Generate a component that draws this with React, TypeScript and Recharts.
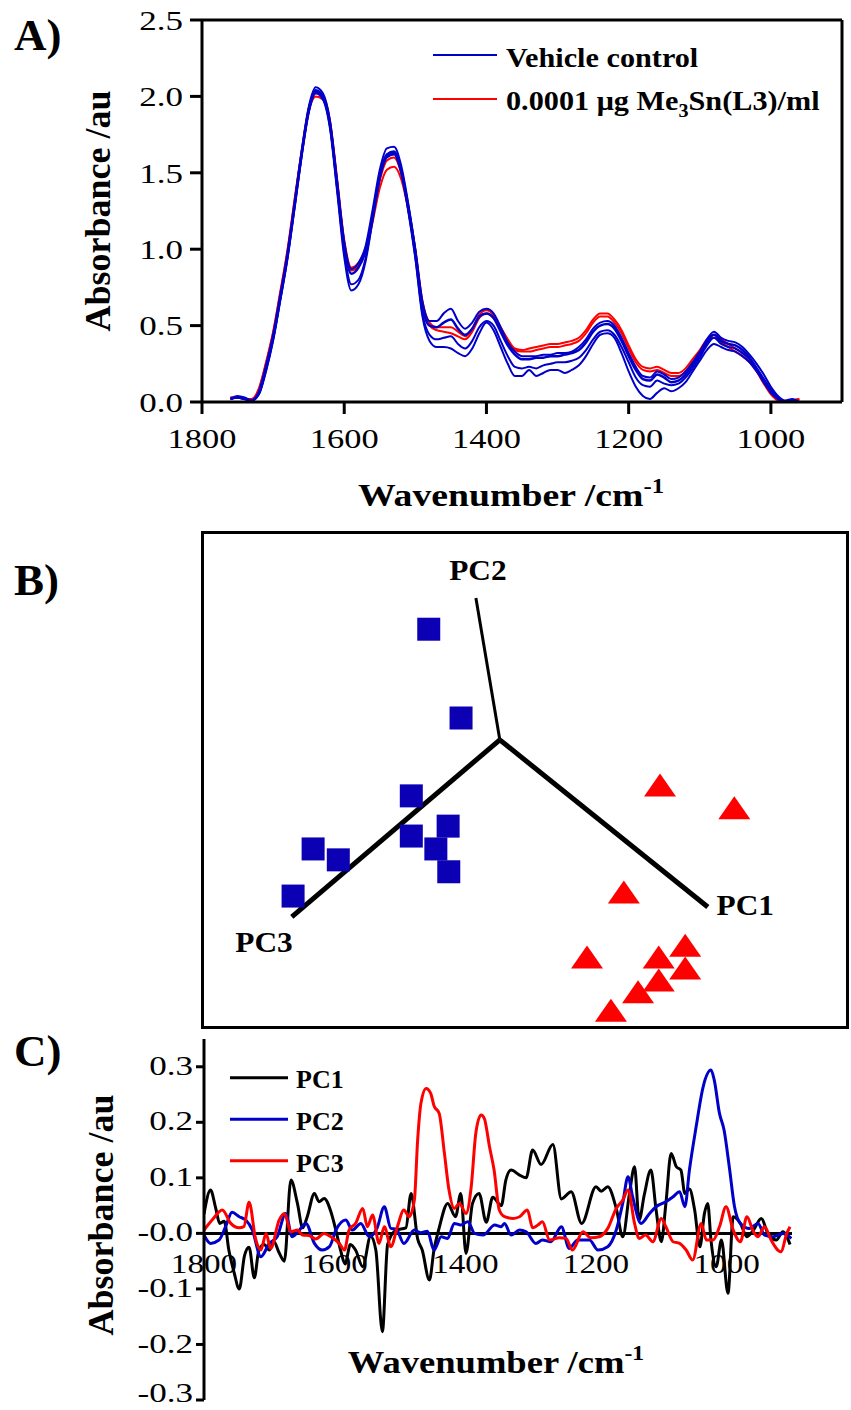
import React from 'react';
import { LineChart, Line, XAxis, YAxis, ScatterChart, Scatter, ReferenceLine, ReferenceDot, Legend } from 'recharts';

const SERIF = '"Liberation Serif", "Times New Roman", Times, serif';
const BLUE = '#0000c8';
const RED = '#ff0000';
const BLACK = '#000000';
const SQUARE_BLUE = '#0c00b4';

// ---------------- Panel A : spectra ----------------
const A_WN = [1760, 1750, 1740, 1730, 1720, 1710, 1700, 1690, 1680, 1670,
  1660, 1650, 1640, 1630, 1620, 1610, 1600, 1590, 1580, 1570,
  1560, 1550, 1540, 1530, 1520, 1510, 1500, 1490, 1480, 1470,
  1460, 1450, 1440, 1430, 1420, 1410, 1400, 1390, 1380, 1370,
  1360, 1350, 1340, 1330, 1320, 1310, 1300, 1290, 1280, 1270,
  1260, 1250, 1240, 1230, 1220, 1210, 1200, 1190, 1180, 1170,
  1160, 1150, 1140, 1130, 1120, 1110, 1100, 1090, 1080, 1070,
  1060, 1050, 1040, 1030, 1020, 1010, 1000, 990, 980, 970, 960];

const A_BLUE_MID = [0.02, 0.03, 0.02, 0.01, 0.06, 0.22, 0.42, 0.68, 0.95, 1.28,
  1.62, 1.91, 2.04, 2.00, 1.82, 1.42, 1.02, 0.84, 0.88, 0.99,
  1.22, 1.48, 1.62, 1.64, 1.52, 1.28, 0.98, 0.62, 0.50, 0.49,
  0.52, 0.54, 0.48, 0.44, 0.48, 0.56, 0.58, 0.55, 0.46, 0.37,
  0.31, 0.28, 0.28, 0.29, 0.29, 0.30, 0.30, 0.31, 0.32, 0.34,
  0.39, 0.46, 0.50, 0.51, 0.48, 0.40, 0.30, 0.21, 0.15, 0.14,
  0.18, 0.16, 0.13, 0.14, 0.18, 0.24, 0.31, 0.39, 0.44, 0.40,
  0.38, 0.37, 0.34, 0.29, 0.22, 0.15, 0.08, 0.03, 0.00, 0.01, 0.00];

const A_BLUE_HIGH = [0.02, 0.04, 0.03, 0.01, 0.07, 0.24, 0.44, 0.70, 0.97, 1.30,
  1.64, 1.93, 2.06, 2.02, 1.84, 1.45, 1.05, 0.87, 0.91, 1.02,
  1.26, 1.52, 1.66, 1.67, 1.55, 1.30, 1.00, 0.66, 0.53, 0.53,
  0.58, 0.61, 0.53, 0.48, 0.52, 0.59, 0.61, 0.58, 0.49, 0.39,
  0.33, 0.30, 0.30, 0.30, 0.31, 0.31, 0.32, 0.32, 0.33, 0.36,
  0.41, 0.48, 0.52, 0.53, 0.50, 0.42, 0.32, 0.23, 0.17, 0.16,
  0.20, 0.18, 0.15, 0.16, 0.20, 0.26, 0.33, 0.41, 0.46, 0.42,
  0.40, 0.39, 0.36, 0.31, 0.25, 0.18, 0.10, 0.04, 0.01, 0.02, 0.00];

const A_BLUE_LOW1 = [0.02, 0.03, 0.02, 0.01, 0.05, 0.21, 0.41, 0.67, 0.94, 1.27,
  1.61, 1.90, 2.03, 1.99, 1.80, 1.40, 0.98, 0.77, 0.80, 0.94,
  1.20, 1.47, 1.61, 1.63, 1.51, 1.26, 0.95, 0.58, 0.44, 0.41,
  0.42, 0.43, 0.38, 0.35, 0.40, 0.49, 0.53, 0.50, 0.40, 0.30,
  0.23, 0.22, 0.23, 0.22, 0.24, 0.25, 0.26, 0.26, 0.27, 0.29,
  0.34, 0.41, 0.46, 0.47, 0.44, 0.36, 0.26, 0.16, 0.11, 0.10,
  0.14, 0.12, 0.11, 0.12, 0.16, 0.22, 0.29, 0.37, 0.42, 0.38,
  0.36, 0.35, 0.32, 0.28, 0.21, 0.13, 0.07, 0.02, 0.00, 0.01, 0.00];

const A_BLUE_LOW2 = [0.02, 0.03, 0.02, 0.01, 0.05, 0.20, 0.40, 0.66, 0.93, 1.26,
  1.60, 1.89, 2.02, 1.98, 1.79, 1.38, 0.95, 0.73, 0.77, 0.92,
  1.19, 1.46, 1.60, 1.62, 1.50, 1.25, 0.94, 0.56, 0.40, 0.36,
  0.36, 0.35, 0.32, 0.30, 0.35, 0.45, 0.52, 0.47, 0.36, 0.25,
  0.17, 0.17, 0.21, 0.17, 0.19, 0.21, 0.21, 0.19, 0.21, 0.24,
  0.30, 0.38, 0.44, 0.45, 0.42, 0.32, 0.20, 0.10, 0.04, 0.02,
  0.06, 0.09, 0.07, 0.09, 0.13, 0.20, 0.27, 0.34, 0.38, 0.36,
  0.34, 0.33, 0.30, 0.26, 0.20, 0.13, 0.06, 0.02, 0.00, 0.01, 0.00];

const A_RED_MID = [0.03, 0.03, 0.02, 0.02, 0.08, 0.25, 0.45, 0.71, 0.98, 1.31,
  1.63, 1.90, 2.00, 1.98, 1.82, 1.44, 1.04, 0.86, 0.89, 0.98,
  1.18, 1.40, 1.52, 1.54, 1.46, 1.26, 0.98, 0.64, 0.50, 0.47,
  0.46, 0.45, 0.43, 0.41, 0.46, 0.55, 0.58, 0.55, 0.47, 0.39,
  0.34, 0.33, 0.33, 0.34, 0.35, 0.36, 0.36, 0.37, 0.38, 0.40,
  0.45, 0.52, 0.56, 0.56, 0.52, 0.45, 0.35, 0.26, 0.21, 0.20,
  0.21, 0.19, 0.17, 0.17, 0.20, 0.26, 0.32, 0.39, 0.42, 0.39,
  0.36, 0.33, 0.30, 0.26, 0.20, 0.12, 0.05, 0.01, 0.00, 0.01, 0.02];

const A_RED_HIGH = [0.03, 0.03, 0.02, 0.02, 0.09, 0.26, 0.46, 0.72, 0.99, 1.32,
  1.64, 1.92, 2.02, 2.00, 1.84, 1.46, 1.06, 0.88, 0.91, 1.00,
  1.22, 1.45, 1.58, 1.60, 1.50, 1.28, 1.00, 0.66, 0.52, 0.49,
  0.49, 0.49, 0.46, 0.43, 0.48, 0.57, 0.60, 0.57, 0.49, 0.41,
  0.35, 0.34, 0.35, 0.36, 0.37, 0.38, 0.38, 0.39, 0.40, 0.42,
  0.47, 0.54, 0.58, 0.58, 0.54, 0.47, 0.37, 0.28, 0.23, 0.22,
  0.23, 0.21, 0.19, 0.19, 0.22, 0.28, 0.34, 0.41, 0.44, 0.41,
  0.38, 0.35, 0.32, 0.28, 0.22, 0.14, 0.06, 0.02, 0.00, 0.01, 0.02];

const A_X_TICKS = [1800, 1600, 1400, 1200, 1000];
const A_TOP_TICKS = [1493, 1207, 921];
const A_Y_TICKS = [0, 0.5, 1.0, 1.5, 2.0, 2.5];
const A_RIGHT_TICKS = [0.5, 2.0];
const A_LEGEND = [
  { color: BLUE, pre: 'Vehicle control', sub: '', post: '' },
  { color: RED, pre: '0.0001 \u03bcg Me', sub: '3', post: 'Sn(L3)/ml' },
];

// ---------------- Panel B : PCA scores ----------------
const B_CTRL_X = [35.1, 40.1, 32.4, 17.2, 21.1, 32.4, 38.1, 36.2, 38.2, 14.1];
const B_CTRL_Y = [80.4, 62.5, 46.8, 36.1, 33.9, 38.7, 40.7, 36.1, 31.5, 26.6];
const B_TRT_X = [70.9, 82.4, 65.3, 74.8, 70.7, 74.8, 59.6, 70.7, 67.5, 63.3];
const B_TRT_Y = [49.0, 44.4, 27.4, 16.7, 14.3, 12.1, 14.3, 9.7, 7.3, 3.6];
const B_ORIGIN = { x: 46.1, y: 58.1 };
const B_AXES = [
  { name: 'PC1', x: 78.3, y: 24.4, lx: 84.1, ly: 24.8, w: 5 },
  { name: 'PC2', x: 42.4, y: 86.7, lx: 42.7, ly: 92.3, w: 3 },
  { name: 'PC3', x: 13.9, y: 22.4, lx: 9.6, ly: 17.3, w: 5 },
];

// ---------------- Panel C : PC loadings ----------------
const PC1_WN = [1800, 1790, 1782, 1776, 1769, 1762, 1754, 1746, 1738, 1731, 1723, 1716, 1708, 1700, 1693, 1685, 1677, 1667, 1657, 1649,
  1642, 1631, 1624, 1616, 1606, 1598, 1591, 1584, 1576, 1568, 1557, 1545, 1537, 1527, 1519, 1506, 1491, 1483, 1473, 1466,
  1455, 1448, 1440, 1427, 1415, 1407, 1399, 1389, 1379, 1368, 1358, 1345, 1338, 1330, 1317, 1307, 1297, 1284, 1266, 1253,
  1238, 1222, 1200, 1192, 1182, 1169, 1159, 1149, 1141, 1134, 1126, 1116, 1108, 1100, 1093, 1085, 1077, 1070, 1064, 1057,
  1049, 1041, 1034, 1029, 1024, 1016, 1008, 998, 990, 979, 969, 959, 947, 937, 924, 914, 903];
const PC1_VAL = [0.035, 0.078, 0.045, 0.018, 0.022, -0.03, -0.07, -0.10, -0.04, -0.025, -0.08, -0.03, -0.02, -0.03, -0.015, -0.035, -0.05, 0.096, 0.054, 0.01,
  0.03, 0.072, 0.057, 0.063, 0.04, 0.005, -0.03, -0.055, -0.02, -0.03, -0.06, -0.005, -0.03, -0.177, -0.02, 0.006, 0.01, 0.072, -0.01, -0.03,
  -0.084, -0.03, 0.01, 0.054, 0.03, 0.072, -0.036, 0.054, 0.072, 0.02, 0.065, 0.05, 0.096, 0.114, 0.105, 0.10, 0.15, 0.124, 0.16, 0.062,
  0.075, 0.018, 0.084, 0.076, 0.084, 0.045, -0.006, 0.07, 0.12, 0.024, 0.07, 0.114, 0.042, -0.015, 0.054, 0.144, 0.12, 0.114, 0.072, 0.08,
  0.042, -0.024, 0.036, 0.054, -0.012, -0.06, -0.012, -0.108, 0.03, 0.018, -0.006, 0.006, 0.027, 0.0, -0.012, 0.003, -0.02];

const PC2_WN = [1800, 1790, 1777, 1767, 1757, 1746, 1736, 1726, 1713, 1700, 1688, 1675, 1665, 1654, 1644, 1631, 1619, 1608, 1598, 1583,
  1573, 1560, 1547, 1535, 1524, 1514, 1506, 1494, 1478, 1468, 1458, 1448, 1437, 1427, 1417, 1407, 1396, 1386, 1373, 1355,
  1345, 1340, 1330, 1317, 1307, 1292, 1282, 1269, 1253, 1241, 1228, 1210, 1197, 1182, 1169, 1159, 1151, 1144, 1131, 1118,
  1108, 1093, 1082, 1072, 1064, 1057, 1047, 1036, 1024, 1019, 1011, 1004, 996, 988, 979, 965, 952, 942, 929, 914, 901];
const PC2_VAL = [-0.003, -0.018, -0.012, 0.012, 0.038, 0.03, 0.024, 0.006, -0.042, -0.018, -0.006, 0.036, -0.006, 0.006, 0.018, -0.018, -0.03, -0.024, 0.006, 0.024,
  0.006, 0.018, -0.006, 0.01, 0.048, 0.009, 0.008, -0.018, 0.006, 0.001, 0.004, -0.03, -0.006, -0.009, 0.018, 0.015, 0.021, 0.0, -0.003, 0.015,
  0.012, 0.018, -0.003, 0.006, 0.003, -0.018, -0.012, -0.015, 0.012, -0.027, -0.012, -0.012, -0.03, -0.024, 0.006, 0.055, 0.102, 0.066, 0.018, 0.036,
  0.048, 0.057, 0.066, 0.075, 0.048, 0.114, 0.19, 0.264, 0.294, 0.276, 0.216, 0.186, 0.12, 0.048, 0.018, 0.009, 0.018, -0.003, -0.006, 0.0, -0.009];

const PC3_WN = [1800, 1787, 1772, 1759, 1746, 1739, 1731, 1721, 1713, 1705, 1698, 1685, 1677, 1667, 1657, 1649, 1639, 1629, 1616, 1606,
  1593, 1585, 1578, 1568, 1557, 1550, 1542, 1532, 1524, 1514, 1504, 1494, 1486, 1478, 1473, 1468, 1460, 1453, 1448, 1440,
  1432, 1425, 1417, 1409, 1399, 1391, 1384, 1376, 1371, 1363, 1356, 1348, 1340, 1327, 1317, 1305, 1297, 1289, 1282, 1271,
  1256, 1246, 1236, 1220, 1208, 1195, 1182, 1169, 1159, 1151, 1141, 1134, 1124, 1113, 1100, 1093, 1082, 1072, 1062, 1052,
  1039, 1031, 1021, 1011, 1001, 990, 979, 969, 959, 952, 942, 932, 917, 908, 903];
const PC3_VAL = [0.006, 0.025, 0.042, 0.018, 0.01, 0.012, 0.056, -0.01, -0.03, 0.0, -0.027, 0.024, 0.036, 0.003, 0.006, -0.003, -0.004, -0.01, 0.0, -0.006,
  -0.018, -0.03, 0.006, 0.018, 0.045, 0.012, 0.033, -0.018, 0.012, -0.024, 0.012, 0.042, 0.03, 0.06, 0.168, 0.234, 0.261, 0.252, 0.23, 0.216,
  0.144, 0.078, 0.045, 0.054, 0.036, 0.084, 0.18, 0.213, 0.207, 0.156, 0.114, 0.042, 0.03, 0.027, 0.03, 0.042, 0.01, 0.015, 0.021, -0.012,
  -0.008, -0.009, -0.03, 0.003, -0.008, -0.006, 0.009, 0.045, 0.06, 0.078, 0.018, -0.009, -0.003, -0.015, 0.027, 0.012, -0.015, -0.018, -0.03, -0.048,
  0.018, -0.012, -0.012, 0.012, 0.048, 0.006, -0.015, 0.03, 0.003, -0.006, 0.012, -0.012, -0.033, 0.0, 0.012];

const C_X_TICKS = [1800, 1600, 1400, 1200, 1000];
const C_Y_TICKS = [-0.3, -0.2, -0.1, 0, 0.1, 0.2, 0.3];
const C_Y_MIN = -0.3;
const C_Y_MAX = 0.35;
const C_LEGEND = [
  { name: 'PC1', color: BLACK },
  { name: 'PC2', color: BLUE },
  { name: 'PC3', color: RED },
];

// ---------------- helpers ----------------
type STProps = {
  x: number; y: number; size: number; sx?: number; anchor?: 'start' | 'middle' | 'end';
  bold?: boolean; rot?: number; dy?: string | number; fill?: string; children: React.ReactNode;
};
function SText({ x, y, size, sx = 1, anchor = 'start', bold = false, rot = 0, dy = 0, fill = BLACK, children }: STProps) {
  const tf = `translate(${x},${y}) scale(${sx},1)` + (rot ? ` rotate(${rot})` : '');
  return (
    <text transform={tf} x={0} y={0} dy={dy} textAnchor={anchor} fontSize={size}
      fontFamily={SERIF} fontWeight={bold ? 700 : 400} fill={fill}>
      {children}
    </text>
  );
}

const AXIS_LINE = { stroke: BLACK, strokeWidth: 3 };

// Panel A layout
const A_W = 851, A_H = 520;
const A_LEFT = 202, A_TOP = 20, A_BOTTOM = 402, A_RIGHT = 842;

const aRows = A_WN.map((wn, i) => ({
  wn,
  rh: A_RED_HIGH[i], rm: A_RED_MID[i],
  bl2: A_BLUE_LOW2[i], bl1: A_BLUE_LOW1[i], bh: A_BLUE_HIGH[i], bm: A_BLUE_MID[i],
}));

const yTickA = (p: any) => (
  <g><SText x={p.x} y={p.y} size={28} sx={1.25} anchor="end" dy="0.35em">{Number(p.payload.value).toFixed(1)}</SText></g>
);
const xTickA = (p: any) => (
  <g><SText x={p.x} y={p.y} size={28} sx={1.23} anchor="middle" dy={34}>{p.payload.value}</SText></g>
);

const LegendA = () => (
  <svg width={420} height={95} style={{ display: 'block', overflow: 'visible' }}>
    {A_LEGEND.map((it, i) => (
      <g key={i}>
        <line x1={8} x2={72} y1={25 + i * 44} y2={25 + i * 44} stroke={it.color} strokeWidth={2} />
        <SText x={81} y={36.7 + i * 43.3} size={27} bold sx={1.12}>
          {it.pre}
          {it.sub ? <tspan dy={7} fontSize={18}>{it.sub}</tspan> : null}
          {it.post ? <tspan dy={-7}>{it.post}</tspan> : null}
        </SText>
      </g>
    ))}
  </svg>
);

function PanelA() {
  const lineCommon = { dot: false, activeDot: false, isAnimationActive: false, type: 'monotone' as const, xAxisId: 'b', yAxisId: 'l' };
  return (
    <LineChart width={A_W} height={A_H} data={aRows} margin={{ top: 10, right: 0, bottom: 0, left: 0 }}>
      <XAxis xAxisId="b" dataKey="wn" type="number" domain={[900, 1800]} reversed allowDataOverflow
        ticks={A_X_TICKS} tickSize={12} tickMargin={0} height={A_H - A_BOTTOM}
        axisLine={AXIS_LINE} tickLine={AXIS_LINE} tick={xTickA}
        label={() => (
          <SText x={(A_LEFT + A_RIGHT) / 2 - 11} y={506} size={32} bold sx={1.18} anchor="middle">
            Wavenumber /cm<tspan dy={-13} fontSize={21}>-1</tspan>
          </SText>
        )} />
      <XAxis xAxisId="t" orientation="top" dataKey="wn" type="number" domain={[900, 1800]} reversed allowDataOverflow
        ticks={A_TOP_TICKS} tickSize={10} height={10} tick={false} axisLine={AXIS_LINE} tickLine={AXIS_LINE} />
      <YAxis yAxisId="l" type="number" domain={[0, 2.5]} ticks={A_Y_TICKS} width={A_LEFT} allowDataOverflow
        tickSize={12} tickMargin={7} axisLine={AXIS_LINE} tickLine={AXIS_LINE} tick={yTickA}
        label={() => (
          <SText x={97} y={(A_TOP + A_BOTTOM) / 2} size={36} bold rot={-90} anchor="middle" dy="0.35em">Absorbance /au</SText>
        )} />
      <YAxis yAxisId="r" orientation="right" type="number" domain={[0, 2.5]} ticks={A_RIGHT_TICKS} width={A_W - A_RIGHT}
        allowDataOverflow tickSize={9} tick={false} axisLine={AXIS_LINE} tickLine={AXIS_LINE} />
      <Line {...lineCommon} dataKey="rh" stroke={RED} strokeWidth={2} />
      <Line {...lineCommon} dataKey="rm" stroke={RED} strokeWidth={2} />
      <Line {...lineCommon} xAxisId="t" yAxisId="r" dataKey="bl2" stroke={BLUE} strokeWidth={2} />
      <Line {...lineCommon} dataKey="bl1" stroke={BLUE} strokeWidth={2} />
      <Line {...lineCommon} dataKey="bh" stroke={BLUE} strokeWidth={2} />
      <Line {...lineCommon} dataKey="bm" stroke={BLUE} strokeWidth={2.5} />
      <Legend layout="vertical" align="center" verticalAlign="middle"
        wrapperStyle={{ left: 425, top: 30, width: 420, height: 95 }}
        content={() => <LegendA />} />
    </LineChart>
  );
}

// Panel B
const bCtrl = B_CTRL_X.map((x, i) => ({ x, y: B_CTRL_Y[i] }));
const bTrt = B_TRT_X.map((x, i) => ({ x, y: B_TRT_Y[i] }));

const squareShape = (p: any) => (
  <rect x={p.cx - 11.5} y={p.cy - 11.5} width={23} height={23} fill={SQUARE_BLUE} />
);
const triangleShape = (p: any) => (
  <polygon points={`${p.cx},${p.cy - 11.5} ${p.cx - 16},${p.cy + 11.5} ${p.cx + 16},${p.cy + 11.5}`} fill={RED} />
);

function PanelB() {
  return (
    <ScatterChart width={646} height={496} margin={{ top: 0, right: 0, bottom: 0, left: 0 }}>
      <XAxis type="number" dataKey="x" domain={[0, 100]} hide allowDataOverflow />
      <YAxis type="number" dataKey="y" domain={[0, 100]} hide width={0} allowDataOverflow />
      <Scatter data={bCtrl} shape={squareShape} isAnimationActive={false} />
      <Scatter data={bTrt} shape={triangleShape} isAnimationActive={false} />
      {B_AXES.map((a) => (
        <ReferenceLine key={a.name} segment={[{ x: B_ORIGIN.x, y: B_ORIGIN.y }, { x: a.x, y: a.y }]}
          stroke={BLACK} strokeWidth={a.w} ifOverflow="visible" />
      ))}
      {B_AXES.map((a) => (
        <ReferenceDot key={'l' + a.name} x={a.lx} y={a.ly} r={1} fill="none" stroke="none" ifOverflow="visible"
          label={(p: any) => {
            const vb = (p && p.viewBox) || { x: 0, y: 0, width: 0, height: 0 };
            return (
              <SText x={vb.x + (vb.width || 0) / 2} y={vb.y + (vb.height || 0) / 2} size={29} bold sx={1.08}
                anchor="middle" dy="0.35em">{a.name}</SText>
            );
          }} />
      ))}
    </ScatterChart>
  );
}

// Panel C layout
const C_W = 851, C_H = 380;
const C_TOP = 9, C_XAXIS_H = 10, C_LEFT = 204, C_RIGHT_M = 59;
const C_PLOT_H = C_H - C_TOP - C_XAXIS_H;
const C_ZERO_Y = C_TOP + (C_PLOT_H * (C_Y_MAX - 0)) / (C_Y_MAX - C_Y_MIN);

const pc1 = PC1_WN.map((wn, i) => ({ wn, v: PC1_VAL[i] }));
const pc2 = PC2_WN.map((wn, i) => ({ wn, v: PC2_VAL[i] }));
const pc3 = PC3_WN.map((wn, i) => ({ wn, v: PC3_VAL[i] }));

const fmtC = (v: number) => (v === 0 ? '-0.0' : v.toFixed(1));
const yTickC = (p: any) => {
  const v = Number(p.payload.value);
  // the lowest label sits against the page's bottom edge: lift it slightly so it stays inside
  const dy = v === C_Y_MIN ? '0.08em' : '0.3em';
  return (
    <g><SText x={p.x} y={p.y} size={27} sx={1.3} anchor="end" dy={dy}>{fmtC(v)}</SText></g>
  );
};
const xTickC = (p: any) => (
  <g><SText x={p.x} y={C_ZERO_Y + 40} size={27} sx={1.23} anchor="middle">{p.payload.value}</SText></g>
);

const LegendC = () => (
  <svg width={160} height={125} style={{ display: 'block', overflow: 'visible' }}>
    {C_LEGEND.map((it, i) => (
      <g key={it.name}>
        <line x1={10} x2={68} y1={17.7 + i * 41.5} y2={17.7 + i * 41.5} stroke={it.color} strokeWidth={3} />
        <SText x={76} y={28.3 + i * 41.7} size={25} bold sx={1.04}>{it.name}</SText>
      </g>
    ))}
  </svg>
);

function PanelC() {
  const lc = { dot: false, activeDot: false, isAnimationActive: false, type: 'monotone' as const, dataKey: 'v', strokeWidth: 3 };
  return (
    <LineChart width={C_W} height={C_H} margin={{ top: C_TOP, right: C_RIGHT_M, bottom: 0, left: 0 }}>
      <XAxis dataKey="wn" type="number" domain={[900, 1800]} reversed allowDataOverflow ticks={C_X_TICKS}
        height={C_XAXIS_H} tickSize={0} tickMargin={0} axisLine={false} tickLine={false} tick={xTickC}
        label={() => (
          <SText x={(C_LEFT + C_W - C_RIGHT_M) / 2 - 2} y={343} size={31} bold sx={1.18} anchor="middle">
            Wavenumber /cm<tspan dy={-13} fontSize={20}>-1</tspan>
          </SText>
        )} />
      <YAxis type="number" domain={[C_Y_MIN, C_Y_MAX]} ticks={C_Y_TICKS} width={C_LEFT} allowDataOverflow
        tickSize={8} tickMargin={3} axisLine={AXIS_LINE} tickLine={AXIS_LINE} tick={yTickC}
        label={() => (
          <SText x={100} y={185} size={36} bold rot={-90} anchor="middle" dy="0.35em">Absorbance /au</SText>
        )} />
      <ReferenceLine y={0} stroke={BLACK} strokeWidth={3} />
      <Line {...lc} data={pc1} stroke={BLACK} />
      <Line {...lc} data={pc2} stroke={BLUE} />
      <Line {...lc} data={pc3} stroke={RED} />
      <Legend layout="vertical" align="center" verticalAlign="middle"
        wrapperStyle={{ left: 220, top: 30, width: 160, height: 125 }}
        content={() => <LegendC />} />
    </LineChart>
  );
}

export default function App() {
  return (
    <div style={{ position: 'absolute', left: 0, top: 0, width: 851, height: 1410, background: '#fff', overflow: 'hidden' }}>
      <div style={{ position: 'absolute', left: 0, top: 0 }}><PanelA /></div>
      <div style={{
        position: 'absolute', left: 201, top: 531, width: 648, height: 498,
        border: '3px solid #000', boxSizing: 'border-box',
      }} />
      <div style={{ position: 'absolute', left: 202, top: 532 }}><PanelB /></div>
      <div style={{ position: 'absolute', left: 0, top: 1030 }}><PanelC /></div>
      <svg width={80} height={1410} style={{ position: 'absolute', left: 0, top: 0 }}>
        <SText x={14} y={50} size={45} bold>A)</SText>
        <SText x={14} y={595} size={45} bold>B)</SText>
        <SText x={14} y={1066} size={45} bold>C)</SText>
      </svg>
    </div>
  );
}
